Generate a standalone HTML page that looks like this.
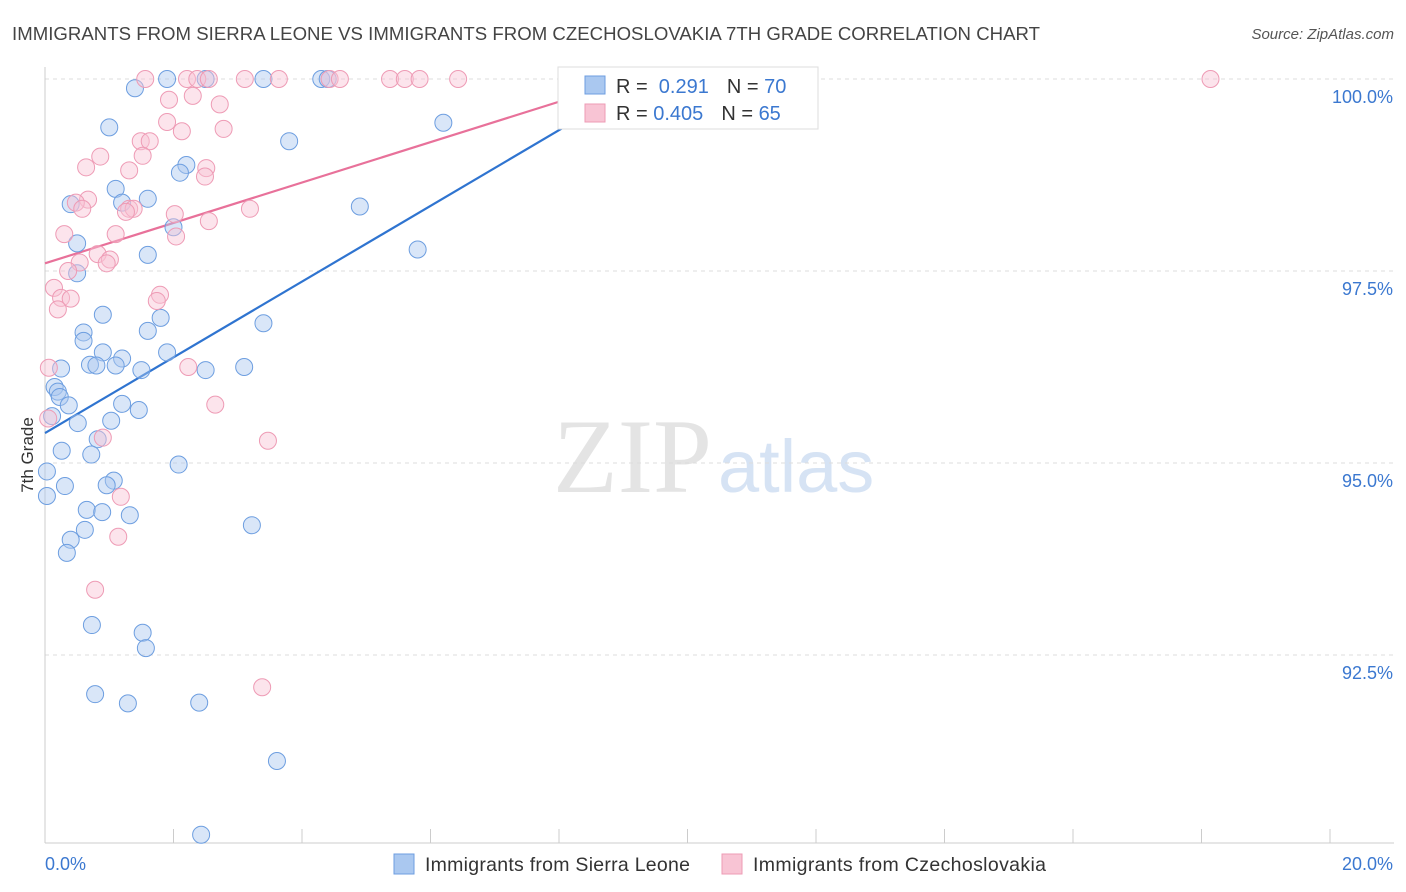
<!DOCTYPE html>
<html><head><meta charset="utf-8"><style>
body{margin:0;background:#fff;font-family:"Liberation Sans",sans-serif;}
svg{display:block}
</style></head><body>
<svg id="c" width="1406" height="892">
<text x="12" y="40" font-size="18.6" fill="#444" textLength="1028">IMMIGRANTS FROM SIERRA LEONE VS IMMIGRANTS FROM CZECHOSLOVAKIA 7TH GRADE CORRELATION CHART</text>
<text x="1394" y="39" font-size="15" fill="#555" font-style="italic" text-anchor="end">Source: ZipAtlas.com</text>
<text x="553" y="492" font-size="106" fill="#e4e4e4" font-family="Liberation Serif">ZIP</text>
<text x="718" y="492" font-size="74" fill="#d6e3f4">atlas</text>
<g id="grid"></g><g id="axes"></g><g id="lines"></g><g id="pts"></g>
<text transform="translate(33,455) rotate(-90)" font-size="17" fill="#333" text-anchor="middle">7th Grade</text>
<g>
<rect x="558" y="67" width="260" height="62" fill="#fff" stroke="#ddd"/>
<rect x="585" y="76" width="20" height="18" fill="#aac8f0" stroke="#6d9ee0"/>
<rect x="585" y="104" width="20" height="18" fill="#f8c4d4" stroke="#ee9bb5"/>
<text x="616" y="93" font-size="20" fill="#333">R = <tspan fill="#3b78d0">&#160;0.291</tspan><tspan dx="18">N = </tspan><tspan fill="#3b78d0">70</tspan></text>
<text x="616" y="120" font-size="20" fill="#333">R = <tspan fill="#3b78d0">0.405</tspan><tspan dx="18">N = </tspan><tspan fill="#3b78d0">65</tspan></text>
</g>
<g>
<rect x="394" y="854" width="20" height="20" fill="#aac8f0" stroke="#6d9ee0"/>
<text x="425" y="871" font-size="19.5" fill="#333" textLength="265">Immigrants from Sierra Leone</text>
<rect x="722" y="854" width="20" height="20" fill="#f8c4d4" stroke="#ee9bb5"/>
<text x="753" y="871" font-size="19.5" fill="#333" textLength="293">Immigrants from Czechoslovakia</text>
</g>
</svg>
<script>
const xTicks=[0,2,4,6,8,10,12,14,16,18,20];
const yTicks=[92.5,95,97.5,100];
const yTickLabels=["92.5%","95.0%","97.5%","100.0%"];
const blueX=[1.9,2.5,3.4,4.3,4.4,1.4,1.0,6.2,3.8,2.2,2.1,1.1,1.6,1.2,0.4,4.9,2.0,0.5,1.6,5.8,0.5,0.9,1.8,3.4,1.6,0.6,0.6,0.9,1.9,1.2,0.7,0.8,1.1,1.5,2.5,3.1,0.25,0.15,0.2,0.23,0.37,1.2,1.46,1.03,0.51,0.11,0.82,0.72,0.26,2.08,0.03,1.07,0.96,0.31,0.65,0.89,1.32,3.22,0.62,0.4,0.34,0.73,1.52,1.57,0.78,1.29,2.4,3.61,2.43,0.03];
const blueY=[100,100,100,100,100,99.88,99.37,99.43,99.19,98.88,98.78,98.57,98.44,98.39,98.37,98.34,98.07,97.86,97.71,97.78,97.47,96.93,96.89,96.82,96.72,96.70,96.59,96.44,96.44,96.36,96.28,96.27,96.27,96.21,96.21,96.25,96.23,95.99,95.93,95.86,95.75,95.77,95.69,95.55,95.52,95.61,95.31,95.11,95.16,94.98,94.89,94.77,94.71,94.70,94.39,94.36,94.32,94.19,94.13,94.00,93.83,92.89,92.79,92.59,91.99,91.87,91.88,91.12,90.16,94.57];
const pinkX=[1.56,2.21,2.37,2.55,3.11,3.64,4.43,4.59,5.37,5.6,5.83,6.43,8.14,18.14,2.3,1.93,2.72,2.13,2.78,1.9,1.49,1.63,0.86,1.52,0.64,2.51,2.49,1.31,0.67,0.48,0.58,1.31,1.38,3.19,1.26,2.02,2.55,1.1,2.04,0.3,0.82,0.54,1.01,0.96,0.36,0.14,0.25,0.4,1.79,1.74,0.2,0.06,2.23,2.65,0.05,0.9,3.47,1.18,1.14,0.78,3.38];
const pinkY=[100,100,100,100,100,100,100,100,100,100,100,100,100,100,99.78,99.73,99.67,99.32,99.35,99.44,99.19,99.19,98.99,99.0,98.85,98.84,98.73,98.81,98.43,98.39,98.31,98.31,98.31,98.31,98.27,98.24,98.15,97.98,97.95,97.98,97.72,97.61,97.65,97.60,97.50,97.28,97.15,97.14,97.19,97.11,97.0,96.24,96.25,95.76,95.58,95.33,95.29,94.56,94.04,93.35,92.08];
const blueR=[0.291],pinkR=[0.405];
const blueLine=[95.39,0.493,8.7], pinkLine=[97.6,0.263,8.5];
const X=v=>45+v/20*1285, Y=v=>79+(100-v)/2.5*192;
const NS="http://www.w3.org/2000/svg";
function mk(p,t,a){const e=document.createElementNS(NS,t);for(const k in a)e.setAttribute(k,a[k]);document.getElementById(p).appendChild(e);return e;}
yTicks.forEach((v,i)=>{
 const g=mk('grid','line',{x1:45,x2:1394,y1:Y(v),y2:Y(v),stroke:'#ddd','stroke-dasharray':'4,4'});
 
 
 const t=mk('axes','text',{x:1393,y:Y(v)+24,'font-size':18,fill:'#3b78d0','text-anchor':'end'});t.textContent=yTickLabels[i];
 
 
});
mk('axes','line',{x1:45,x2:45,y1:67,y2:843,stroke:'#ccc'});
mk('axes','line',{x1:45,x2:1394,y1:843,y2:843,stroke:'#ccc'});
xTicks.forEach(v=>{const l=mk('axes','line',{x1:X(v),x2:X(v),y1:829,y2:843,stroke:'#ccc'});
 
 });
let t0=mk('axes','text',{x:45,y:870,'font-size':18,fill:'#3b78d0'});t0.textContent=xTicks[0].toFixed(1)+'%';


let t1=mk('axes','text',{x:1393,y:870,'font-size':18,fill:'#3b78d0','text-anchor':'end'});t1.textContent=xTicks[10].toFixed(1)+'%';


function pts(xs,ys,fill,stroke,name){xs.forEach((x,i)=>{const c=mk('pts','circle',{cx:X(x),cy:Y(ys[i]),r:8.5,fill:fill,'fill-opacity':0.45,stroke:stroke,'stroke-width':1});
 
 });}
pts(blueX,blueY,'#aac8f0','#6d9ee0','point-sierra-leone');
pts(pinkX,pinkY,'#f8c4d4','#ee9bb5','point-czechoslovakia');
function ln(p,col,name){const l=mk('lines','line',{x1:X(0),y1:Y(p[0]),x2:X(p[2]),y2:Y(p[0]+p[1]*p[2]),stroke:col,'stroke-width':2.2});
 
 }
ln(blueLine,'#2f74d0','trendline-sierra-leone');
ln(pinkLine,'#e8719a','trendline-czechoslovakia');
</script>
</body></html>
